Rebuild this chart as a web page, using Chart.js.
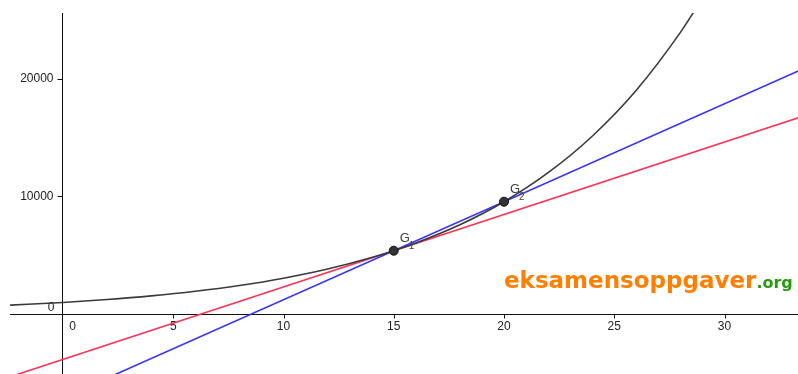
<!DOCTYPE html>
<html>
<head>
<meta charset="utf-8">
<script src="https://cdn.jsdelivr.net/npm/chart.js@4"></script>
<style>
  html, body { margin: 0; padding: 0; background: #fff; }
  #wrap { width: 798px; height: 374px; }
</style>
</head>
<body>
<div id="wrap"><canvas id="c" width="798" height="374"></canvas></div>
<script>
// ===============================
// DATA
// ===============================
// exponential curve f(x)
const curveX = [-2.4, 0, 2, 4, 6, 8, 10, 12, 14, 15, 16, 18, 20, 22, 24, 26, 28, 28.8];
const curveY = [722, 952, 1200, 1510, 1901, 2394, 3014, 3795, 4779, 5362, 6017, 7576, 9539, 12010, 15122, 19040, 23973, 26291];

// tangent at G1 (red) and secant G1-G2 (blue), end points
const redX  = [-2.5, 34];
const redY  = [-5448, 17098];
const blueX = [-2.5, 34];
const blueY = [-9258, 21235];

// points G1, G2
const ptNames = ["1", "2"];
const ptX = [15, 20];
const ptY = [5362, 9539];

// axis ticks
const xTicks = [5, 10, 15, 20, 25, 30];
const yTicks = [10000, 20000];

// view window
const X_MIN = -2.404, X_MAX = 33.333;
const Y_MIN = -5149,  Y_MAX = 25627;

const toXY = (xs, ys) => xs.map((x, i) => ({ x: x, y: ys[i] }));

// ===============================
// AXES + TEXT PLUGIN
// ===============================
const axesPlugin = {
  id: "geoAxes",
  beforeDatasetsDraw(chart) {
    const ctx = chart.ctx;
    const xs = chart.scales.x, ys = chart.scales.y;
    const area = chart.chartArea;
    const x0 = Math.round(xs.getPixelForValue(0)) - 0.5;
    const y0 = Math.round(ys.getPixelForValue(0)) + 0.5;

    ctx.save();
    ctx.strokeStyle = "#111";
    ctx.lineWidth = 1;
    ctx.beginPath();
    ctx.moveTo(area.left, y0); ctx.lineTo(area.right, y0);
    ctx.moveTo(x0, area.top); ctx.lineTo(x0, area.bottom);
    // ticks
    xTicks.forEach(v => {
      const px = Math.round(xs.getPixelForValue(v)) + 0.5;
      ctx.moveTo(px, y0); ctx.lineTo(px, y0 + 4);
    });
    yTicks.forEach(v => {
      const py = Math.round(ys.getPixelForValue(v)) + 0.5;
      ctx.moveTo(x0, py); ctx.lineTo(x0 - 5, py);
    });
    ctx.stroke();

    ctx.fillStyle = "#222";
    ctx.font = "12px 'Liberation Sans', Arial, sans-serif";
    ctx.textAlign = "center";
    ctx.textBaseline = "middle";
    xTicks.forEach(v => {
      ctx.fillText(String(v), xs.getPixelForValue(v), y0 + 12.5);
    });
    ctx.fillText("0", x0 + 10, y0 + 12.5);
    ctx.textAlign = "right";
    yTicks.forEach(v => {
      ctx.fillText(String(v), x0 - 9, ys.getPixelForValue(v));
    });
    ctx.fillText("0", x0 - 8, y0 - 7);
    ctx.restore();
  },
  afterDatasetsDraw(chart) {
    const ctx = chart.ctx;
    const xs = chart.scales.x, ys = chart.scales.y;
    ctx.save();
    // point labels
    ctx.fillStyle = "#404040";
    ctx.textAlign = "left";
    ctx.textBaseline = "alphabetic";
    ptX.forEach((v, i) => {
      const px = xs.getPixelForValue(v);
      const py = ys.getPixelForValue(ptY[i]);
      ctx.font = "13px 'Liberation Sans', Arial, sans-serif";
      ctx.fillText("G", px + 6, py - 9);
      ctx.font = "10px 'Liberation Sans', Arial, sans-serif";
      ctx.fillText(ptNames[i], px + 15, py - 2);
    });
    // watermark
    ctx.font = "bold 23px 'DejaVu Sans', sans-serif";
    ctx.fillStyle = "#ff7f00";
    ctx.fillText("eksamensoppgaver", 504, 288);
    const w = ctx.measureText("eksamensoppgaver").width;
    ctx.font = "bold 16px 'DejaVu Sans', sans-serif";
    ctx.fillStyle = "#2a9a10";
    ctx.fillText(".org", 504 + w, 288);
    ctx.restore();
  }
};

// ===============================
// CHART
// ===============================
// note: lower "order" is drawn on top
new Chart(document.getElementById("c"), {
  type: "scatter",
  data: {
    datasets: [
      {
        data: toXY(redX, redY),
        showLine: true,
        borderColor: "#ff3355",
        borderWidth: 1.6,
        pointRadius: 0,
        order: 3,
      },
      {
        data: toXY(blueX, blueY),
        showLine: true,
        borderColor: "#3535ff",
        borderWidth: 1.6,
        pointRadius: 0,
        order: 2,
      },
      {
        data: toXY(curveX, curveY),
        showLine: true,
        borderColor: "#3a3a3a",
        borderWidth: 1.6,
        pointRadius: 0,
        cubicInterpolationMode: "monotone",
        order: 1,
      },
      {
        data: toXY(ptX, ptY),
        showLine: false,
        backgroundColor: "#333",
        borderColor: "#111",
        borderWidth: 1,
        pointRadius: 4.5,
        order: 0,
      },
    ],
  },
  options: {
    responsive: false,
    animation: false,
    events: [],
    layout: { autoPadding: false, padding: { left: 10, top: 13, right: 0, bottom: 0 } },
    plugins: { legend: { display: false }, tooltip: { enabled: false } },
    scales: {
      x: { type: "linear", min: X_MIN, max: X_MAX, display: false },
      y: { type: "linear", min: Y_MIN, max: Y_MAX, display: false },
    },
  },
  plugins: [axesPlugin],
});
</script>
</body>
</html>
